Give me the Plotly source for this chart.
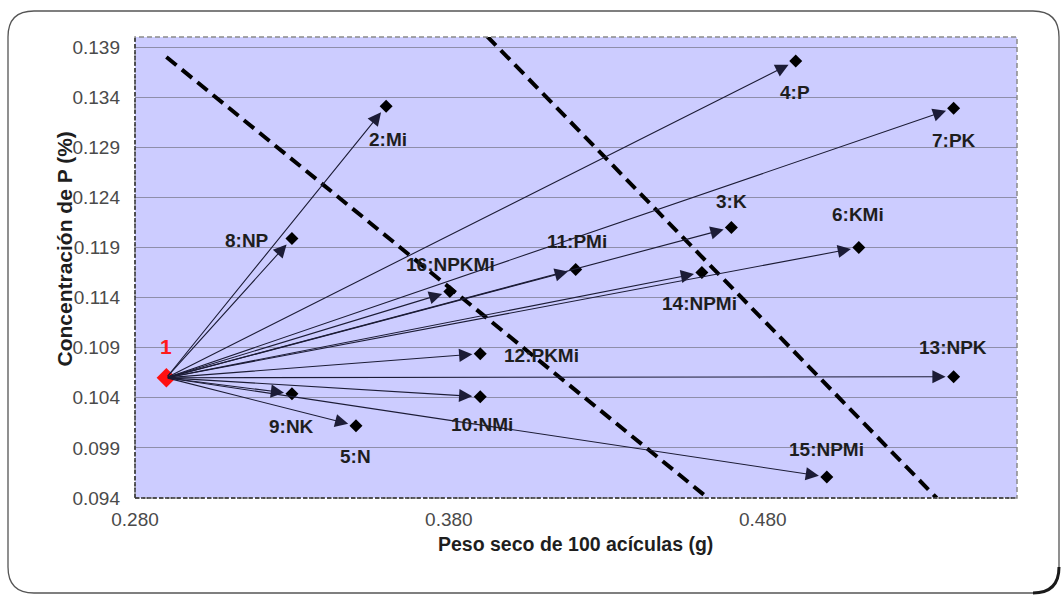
import plotly.graph_objects as go

# ---------------- data ----------------
origin_label = "1"
origin_x = 0.290
origin_y = 0.1060

labels = ["2:Mi", "3:K", "4:P", "5:N", "6:KMi", "7:PK", "8:NP", "9:NK",
          "10:NMi", "11:PMi", "12:PKMi", "13:NPK", "14:NPMi", "15:NPMi", "16:NPKMi"]
peso = [0.360, 0.470, 0.4905, 0.3504, 0.5106, 0.5408, 0.330, 0.330,
        0.390, 0.4204, 0.390, 0.5408, 0.4606, 0.5004, 0.3803]
conc_p = [0.1331, 0.1210, 0.1376, 0.1012, 0.1190, 0.1329, 0.1199, 0.1044,
          0.1041, 0.1168, 0.1084, 0.1061, 0.1165, 0.0961, 0.1146]

iso1_x = [0.290, 0.4625]
iso1_y = [0.1380, 0.0940]
iso2_x = [0.3921, 0.5354]
iso2_y = [0.1401, 0.0940]

x_ticks = [0.280, 0.380, 0.480]
x_title = "Peso seco de 100 acículas (g)"
y_title = "Concentración de P (%)"

# label offsets in pixels (dx right, dy down)
label_offsets = {
    "2:Mi": (2, 33), "3:K": (0, -26), "4:P": (-1, 31), "5:N": (0, 31),
    "6:KMi": (-1, -33), "7:PK": (0, 32), "8:NP": (-45, 2), "9:NK": (0, 33),
    "10:NMi": (2, 28), "11:PMi": (1, -28), "12:PKMi": (61, 2), "13:NPK": (-1, -29),
    "14:NPMi": (-2, 31), "15:NPMi": (0, -27), "16:NPKMi": (1, -27),
}

# ---------------- layout geometry ----------------
W, H = 1064, 596
ML, MR, MT, MB = 135, 47, 37, 98
PW, PH = W - ML - MR, H - MT - MB
FONT = "Liberation Sans, Arial, sans-serif"


def px2paper(px, py):
    return (px - ML) / PW, (H - MB - py) / PH


fig = go.Figure()

# dashed iso lines
for xs, ys in [(iso1_x, iso1_y), (iso2_x, iso2_y)]:
    fig.add_trace(go.Scatter(x=xs, y=ys, mode="lines",
                             line=dict(color="black", width=4, dash="13px,7px"),
                             hoverinfo="skip", showlegend=False, cliponaxis=True))

# points
fig.add_trace(go.Scatter(x=peso, y=conc_p, mode="markers",
                         marker=dict(symbol="diamond", size=10, color="black"),
                         showlegend=False))
fig.add_trace(go.Scatter(x=[origin_x], y=[origin_y], mode="markers",
                         marker=dict(symbol="diamond", size=15, color="#ff1010"),
                         showlegend=False))

annotations = []
# arrows
for xv, yv in zip(peso, conc_p):
    annotations.append(dict(x=xv, y=yv, ax=origin_x, ay=origin_y,
                            xref="x", yref="y", axref="x", ayref="y",
                            text="", showarrow=True, arrowhead=2, arrowsize=2.4,
                            arrowwidth=1.1, arrowcolor="#1c1c36", standoff=8))
# labels
for lab, xv, yv in zip(labels, peso, conc_p):
    dx, dy = label_offsets[lab]
    annotations.append(dict(x=xv, y=yv, xref="x", yref="y", text="<b>%s</b>" % lab,
                            showarrow=False, xshift=dx, yshift=-dy,
                            font=dict(family=FONT, size=19, color="#1e1e1e")))
annotations.append(dict(x=origin_x, y=origin_y, xref="x", yref="y",
                        text="<b>%s</b>" % origin_label, showarrow=False,
                        xshift=0, yshift=31,
                        font=dict(family=FONT, size=21, color="#ff1a1a")))
# axis titles
xt, yt = px2paper(575, 556)
annotations.append(dict(x=xt, y=yt, xref="paper", yref="paper", text="<b>%s</b>" % x_title,
                        showarrow=False, borderpad=0,
                        font=dict(family=FONT, size=19.5, color="#1e1e1e")))
xt, yt = px2paper(50, 249)
annotations.append(dict(x=xt, y=yt, xref="paper", yref="paper", text="<b>%s</b>" % y_title,
                        showarrow=False, textangle=-90,
                        font=dict(family=FONT, size=21, color="#1e1e1e")))

# shapes: plot-area dashed border and outer rounded frame
shapes = []
shapes.append(dict(type="rect", xref="paper", yref="paper", x0=0, y0=0, x1=1, y1=1,
                   line=dict(color="#8a8a8a", width=1.5, dash="5px,3px"), layer="above"))
shapes.append(dict(type="line", xref="paper", yref="paper", x0=0, y0=0, x1=0, y1=1,
                   line=dict(color="#333333", width=1.5, dash="4px,2px"), layer="above"))
shapes.append(dict(type="line", xref="paper", yref="paper", x0=0, y0=0, x1=1, y1=0,
                   line=dict(color="#333333", width=1.5, dash="4px,2px"), layer="above"))

L, R, T, B, r = 8, 1059, 11, 593, 26


def P(px, py):
    a, b = px2paper(px, py)
    return "%.5f,%.5f" % (a, b)


path = ("M " + P(L + r, T) + " L " + P(R - r, T) + " Q " + P(R, T) + " " + P(R, T + r) +
        " L " + P(R, B - r) + " Q " + P(R, B) + " " + P(R - r, B) +
        " L " + P(L + r, B) + " Q " + P(L, B) + " " + P(L, B - r) +
        " L " + P(L, T + r) + " Q " + P(L, T) + " " + P(L + r, T) + " Z")
shapes.append(dict(type="path", xref="paper", yref="paper", path=path,
                   line=dict(color="#555555", width=1.3), layer="above"))
corner = ("M " + P(R, B - r) + " Q " + P(R, B) + " " + P(R - r, B))
shapes.append(dict(type="path", xref="paper", yref="paper", path=corner,
                   line=dict(color="#1a1a1a", width=3), layer="above"))

fig.update_layout(
    width=W, height=H,
    margin=dict(l=ML, r=MR, t=MT, b=MB),
    paper_bgcolor="white",
    plot_bgcolor="#ccccff",
    showlegend=False,
    annotations=annotations,
    shapes=shapes,
    font=dict(family=FONT),
)
fig.update_xaxes(range=[0.280, 0.561], tickvals=x_ticks, tickformat=".3f",
                 showgrid=False, zeroline=False, showline=False, ticks="",
                 ticklabelstandoff=8,
                 tickfont=dict(family=FONT, size=19, color="#4a4a4a"))
fig.update_yaxes(range=[0.094, 0.140], tick0=0.094, dtick=0.005, tickformat=".3f",
                 showgrid=True, gridcolor="#8e8eaa", gridwidth=1,
                 zeroline=False, showline=False, ticks="",
                 ticklabelstandoff=14,
                 tickfont=dict(family=FONT, size=19, color="#4a4a4a"))

fig.write_html("out.html", config={"displayModeBar": False},
               post_script="document.body.style.margin='0';document.body.style.overflow='hidden';")
